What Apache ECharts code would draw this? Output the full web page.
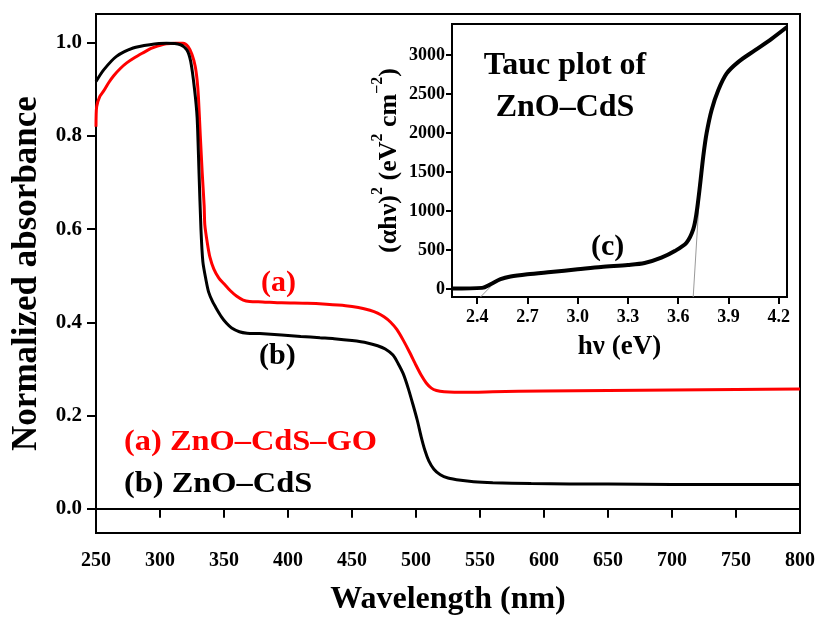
<!DOCTYPE html>
<html>
<head>
<meta charset="utf-8">
<script src="https://cdn.jsdelivr.net/npm/echarts@6/dist/echarts.min.js"></script>
<style>
  html, body { margin: 0; padding: 0; background: #fff; }
  #chart { width: 816px; height: 619px; }
</style>
</head>
<body>
<div id="chart"></div>
<script>
// UV-vis absorbance, (a) ZnO–CdS–GO
const wavelengthA = [250, 250.5, 253, 256, 260, 264, 269, 274, 280, 287, 293, 298, 305, 312, 318, 322, 325, 327.5, 329, 330, 331.5, 333, 334.5, 335, 337, 339, 342, 346, 350, 355, 360, 365, 370, 380, 395, 415, 430, 445, 455, 464, 470, 475, 480, 485, 490, 495, 500, 504, 508, 512, 516, 522, 530, 545, 560, 600, 650, 700, 750, 800];
const absorbanceA = [0.820, 0.863, 0.885, 0.897, 0.915, 0.930, 0.945, 0.957, 0.968, 0.979, 0.988, 0.993, 0.998, 0.999, 0.999, 0.992, 0.975, 0.950, 0.920, 0.885, 0.800, 0.720, 0.650, 0.610, 0.570, 0.540, 0.515, 0.495, 0.483, 0.468, 0.456, 0.448, 0.445, 0.444, 0.442, 0.441, 0.439, 0.436, 0.432, 0.426, 0.420, 0.412, 0.401, 0.385, 0.362, 0.336, 0.308, 0.287, 0.270, 0.259, 0.254, 0.251, 0.250, 0.250, 0.251, 0.253, 0.254, 0.255, 0.256, 0.257];

// UV-vis absorbance, (b) ZnO–CdS
const wavelengthB = [250, 256, 266, 279, 292, 305, 316, 321, 324, 327, 329, 330.5, 332, 333.5, 336, 338, 341, 344, 348, 352, 356, 362, 368, 378, 395, 410, 425, 436, 450, 462, 470, 476, 482, 486, 490, 494, 498, 501, 504, 507, 510, 514, 519, 525, 535, 545, 560, 590, 650, 700, 750, 800];
const absorbanceB = [0.917, 0.942, 0.971, 0.989, 0.996, 0.999, 0.996, 0.985, 0.960, 0.900, 0.840, 0.720, 0.600, 0.530, 0.490, 0.465, 0.445, 0.430, 0.412, 0.398, 0.388, 0.380, 0.377, 0.376, 0.373, 0.370, 0.367, 0.365, 0.361, 0.356, 0.350, 0.343, 0.330, 0.312, 0.290, 0.258, 0.220, 0.190, 0.155, 0.125, 0.103, 0.085, 0.073, 0.066, 0.061, 0.058, 0.056, 0.054, 0.053, 0.052, 0.052, 0.052];

// Tauc plot of ZnO–CdS
const photonEnergy = [2.25, 2.43, 2.48, 2.54, 2.60, 2.70, 2.84, 3.00, 3.14, 3.30, 3.40, 3.50, 3.58, 3.65, 3.69, 3.71, 3.73, 3.75, 3.77, 3.80, 3.84, 3.89, 3.96, 4.06, 4.16, 4.25];
const taucValue = [8, 17, 64, 128, 162, 191, 221, 255, 285, 310, 335, 404, 489, 596, 766, 979, 1319, 1702, 2000, 2298, 2553, 2766, 2915, 3064, 3213, 3361];

// Band-edge extrapolation lines
const tangentLowE = [2.42, 2.52];
const tangentLowV = [-100, 120];
const tangentHighE = [3.69, 3.73];
const tangentHighV = [-100, 1300];

// Tick labels
const mainXTicks = [250, 300, 350, 400, 450, 500, 550, 600, 650, 700, 750, 800];
const mainYTicks = [0.0, 0.2, 0.4, 0.6, 0.8, 1.0];
const insetXTicks = [2.4, 2.7, 3.0, 3.3, 3.6, 3.9, 4.2];
const insetYTicks = [0, 500, 1000, 1500, 2000, 2500, 3000];

const FONT = "'Liberation Serif', 'Times New Roman', serif";
const pairs = (xs, ys) => xs.map((x, i) => [x, ys[i]]);

const chart = echarts.init(document.getElementById('chart'), null, { renderer: 'canvas' });

const boldText = (size, color) => ({ fontFamily: FONT, fontWeight: 'bold', fontSize: size, color: color || '#000' });

chart.setOption({
  animation: false,
  backgroundColor: '#fff',
  grid: [
    { left: 96, top: 14, right: 16, bottom: 86, show: true, borderColor: '#000', borderWidth: 2, containLabel: false, outerBoundsMode: 'none' },
    { left: 452, top: 24, right: 29, bottom: 322, show: true, borderColor: '#000', borderWidth: 2, backgroundColor: '#fff', z: 5, containLabel: false, outerBoundsMode: 'none' }
  ],
  xAxis: [
    {
      gridIndex: 0, type: 'value', min: 250, max: 800, interval: 50,
      name: 'Wavelength (nm)', nameLocation: 'middle', nameGap: 51,
      nameTextStyle: boldText(32),
      axisLine: { lineStyle: { color: '#000', width: 2 } },
      axisTick: { show: true, inside: false, length: 9, lineStyle: { width: 2 }, customValues: mainXTicks },
      axisLabel: { ...boldText(20), margin: 18, customValues: mainXTicks },
      splitLine: { show: false }
    },
    {
      gridIndex: 1, type: 'value', min: 2.25, max: 4.25,
      name: 'hν (eV)', nameLocation: 'middle', nameGap: 37,
      nameTextStyle: boldText(27),
      axisLine: { onZero: false, lineStyle: { color: '#000', width: 2 } },
      axisTick: { show: true, inside: false, length: 7, lineStyle: { width: 2 }, customValues: insetXTicks },
      axisLabel: { ...boldText(18), margin: 11, customValues: insetXTicks, formatter: v => v.toFixed(1) },
      splitLine: { show: false }
    }
  ],
  yAxis: [
    {
      gridIndex: 0, type: 'value', min: -0.052, max: 1.062,
      name: 'Normalized absorbance', nameLocation: 'middle', nameGap: 52,
      nameTextStyle: boldText(35),
      axisLine: { lineStyle: { color: '#000', width: 2 } },
      axisTick: { show: true, inside: false, length: 9, lineStyle: { width: 2 }, customValues: mainYTicks },
      axisLabel: { ...boldText(21), margin: 14, customValues: mainYTicks, formatter: v => v.toFixed(1) },
      splitLine: { show: false }
    },
    {
      gridIndex: 1, type: 'value', min: -100, max: 3400,
      name: '{t|(αhν)}{s|2}{t| (eV}{s|2}{t| cm}{s|−2}{t|)}', nameLocation: 'middle', nameGap: 50,
      nameTextStyle: {
        rich: {
          t: { ...boldText(26), lineHeight: 32, verticalAlign: 'bottom' },
          s: { ...boldText(16), lineHeight: 16, verticalAlign: 'top' }
        }
      },
      axisLine: { onZero: false, lineStyle: { color: '#000', width: 2 } },
      axisTick: { show: true, inside: false, length: 6, lineStyle: { width: 2 }, customValues: insetYTicks },
      axisLabel: { ...boldText(18), margin: 7, customValues: insetYTicks, formatter: v => String(v) },
      splitLine: { show: false }
    }
  ],
  series: [
    {
      name: '(a) ZnO–CdS–GO', type: 'line', xAxisIndex: 0, yAxisIndex: 0,
      data: pairs(wavelengthA, absorbanceA), showSymbol: false, smooth: 0.25,
      lineStyle: { color: '#ff0000', width: 3 }, z: 2
    },
    {
      name: '(b) ZnO–CdS', type: 'line', xAxisIndex: 0, yAxisIndex: 0,
      data: pairs(wavelengthB, absorbanceB), showSymbol: false, smooth: 0.25,
      lineStyle: { color: '#000', width: 3 }, z: 3
    },
    {
      name: 'tangent-low', type: 'line', xAxisIndex: 1, yAxisIndex: 1,
      data: pairs(tangentLowE, tangentLowV), showSymbol: false,
      lineStyle: { color: '#999', width: 1 }, z: 6
    },
    {
      name: 'tangent-high', type: 'line', xAxisIndex: 1, yAxisIndex: 1,
      data: pairs(tangentHighE, tangentHighV), showSymbol: false,
      lineStyle: { color: '#999', width: 1 }, z: 6
    },
    {
      name: 'Tauc', type: 'line', xAxisIndex: 1, yAxisIndex: 1,
      data: pairs(photonEnergy, taucValue), showSymbol: false, smooth: 0.3,
      lineStyle: { color: '#000', width: 4 }, z: 7
    }
  ],
  graphic: [
    { type: 'text', x: 124, y: 427, scaleX: 1.08, z: 20, style: { text: '(a) ZnO–CdS–GO', font: "bold 30px " + FONT, fill: '#ff0000' } },
    { type: 'text', x: 124, y: 469, scaleX: 1.08, z: 20, style: { text: '(b) ZnO–CdS', font: "bold 30px " + FONT, fill: '#000' } },
    { type: 'text', x: 261, y: 268, z: 20, style: { text: '(a)', font: "bold 30px " + FONT, fill: '#ff0000' } },
    { type: 'text', x: 259, y: 341, z: 20, style: { text: '(b)', font: "bold 30px " + FONT, fill: '#000' } },
    { type: 'text', x: 591, y: 232, z: 20, style: { text: '(c)', font: "bold 30px " + FONT, fill: '#000' } },
    { type: 'text', x: 565, y: 50, z: 20, style: { text: 'Tauc plot of', font: "bold 32px " + FONT, fill: '#000', textAlign: 'center' } },
    { type: 'text', x: 565, y: 92, z: 20, style: { text: 'ZnO–CdS', font: "bold 32px " + FONT, fill: '#000', textAlign: 'center' } }
  ]
});
</script>
</body>
</html>
